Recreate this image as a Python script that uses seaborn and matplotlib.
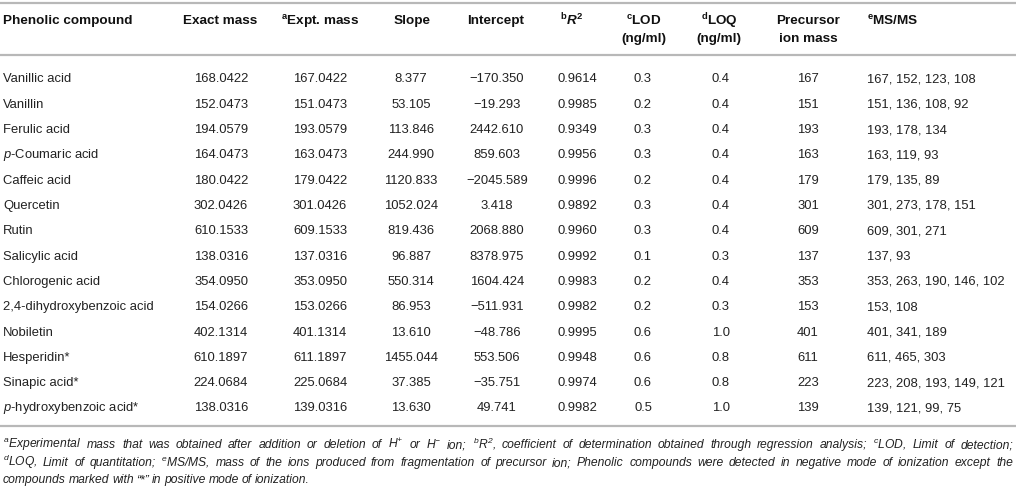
import matplotlib
matplotlib.use("Agg")
import matplotlib.pyplot as plt
import seaborn as sns

# table values
compounds = ["Vanillic acid", "Vanillin", "Ferulic acid", r"$\mathit{p}$-Coumaric acid",
             "Caffeic acid", "Quercetin", "Rutin", "Salicylic acid", "Chlorogenic acid",
             "2,4-dihydroxybenzoic acid", "Nobiletin", "Hesperidin*", "Sinapic acid*",
             r"$\mathit{p}$-hydroxybenzoic acid*"]
exact_mass = [168.0422, 152.0473, 194.0579, 164.0473, 180.0422, 302.0426, 610.1533,
              138.0316, 354.0950, 154.0266, 402.1314, 610.1897, 224.0684, 138.0316]
expt_mass = [167.0422, 151.0473, 193.0579, 163.0473, 179.0422, 301.0426, 609.1533,
             137.0316, 353.0950, 153.0266, 401.1314, 611.1897, 225.0684, 139.0316]
slope = [8.377, 53.105, 113.846, 244.990, 1120.833, 1052.024, 819.436,
         96.887, 550.314, 86.953, 13.610, 1455.044, 37.385, 13.630]
intercept = [-170.350, -19.293, 2442.610, 859.603, -2045.589, 3.418, 2068.880,
             8378.975, 1604.424, -511.931, -48.786, 553.506, -35.751, 49.741]
r2 = [0.9614, 0.9985, 0.9349, 0.9956, 0.9996, 0.9892, 0.9960,
      0.9992, 0.9983, 0.9982, 0.9995, 0.9948, 0.9974, 0.9982]
lod = [0.3, 0.2, 0.3, 0.3, 0.2, 0.3, 0.3, 0.1, 0.2, 0.2, 0.6, 0.6, 0.6, 0.5]
loq = [0.4, 0.4, 0.4, 0.4, 0.4, 0.4, 0.4, 0.3, 0.4, 0.3, 1.0, 0.8, 0.8, 1.0]
precursor = [167, 151, 193, 163, 179, 301, 609, 137, 353, 153, 401, 611, 223, 139]
msms = [[167, 152, 123, 108], [151, 136, 108, 92], [193, 178, 134], [163, 119, 93],
        [179, 135, 89], [301, 273, 178, 151], [609, 301, 271], [137, 93],
        [353, 263, 190, 146, 102], [153, 108], [401, 341, 189], [611, 465, 303],
        [223, 208, 193, 149, 121], [139, 121, 99, 75]]

headers = ["Phenolic compound", "Exact mass", r"$^{a}$Expt. mass", "Slope", "Intercept",
           r"$^{b}\mathbfit{R}^{2}$", "$^{c}$LOD\n(ng/ml)", "$^{d}$LOQ\n(ng/ml)",
           "Precursor\nion mass", "$^{e}$MS/MS"]

notes = [
    "$^{a}$Experimental mass that was obtained after addition or deletion of H$^{+}$ or "
    "H$^{-}$ ion; $^{b}$R$^{2}$, coefficient of determination obtained through regression "
    "analysis; $^{c}$LOD, Limit of detection;",
    "$^{d}$LOQ, Limit of quantitation; $^{e}$MS/MS, mass of the ions produced from "
    "fragmentation of precursor ion; Phenolic compounds were detected in negative mode "
    "of ionization except the",
    "compounds marked with \u201c*\u201d in positive mode of ionization.",
]

sns.set_theme(style="white")
plt.rcParams["font.family"] = ["Liberation Sans", "DejaVu Sans"]
plt.rcParams["mathtext.fontset"] = "custom"
plt.rcParams["mathtext.default"] = "regular"
plt.rcParams["mathtext.rm"] = "Liberation Sans"
plt.rcParams["mathtext.it"] = "Liberation Sans:italic"
plt.rcParams["mathtext.bf"] = "Liberation Sans:bold"
plt.rcParams["mathtext.bfit"] = "Liberation Sans:italic:bold"


def fmt(v, nd):
    s = f"{abs(v):.{nd}f}"
    return ("\u2212" + s) if v < 0 else s


fig = plt.figure(figsize=(10.16, 4.92), dpi=100)
ax = fig.add_axes([0, 0, 1, 1])
ax.set_xlim(0, 1016)
ax.set_ylim(492, 0)
ax.axis("off")

txt = "#222222"
rule = "#b8b8b8"
fs = 9.4

# column anchors (pixels)
col_x = [3, 221, 320, 411, 497, 577, 643, 721, 808, 867]
head_x = [3, 220, 320, 412, 496, 571, 644, 719, 808, 867]
head_ha = ["left"] + ["center"] * 8 + ["left"]

ax.axhline(3, color=rule, lw=1.6)
ax.axhline(55, color=rule, lw=1.6)
ax.axhline(426, color=rule, lw=1.6)

head_base = [24, 42]
for x, h, ha in zip(head_x, headers, head_ha):
    for n, part in enumerate(h.split("\n")):
        # superscripted labels sit a touch high, nudge them down
        dy = 1 if "$" in part else 0
        ax.text(x, head_base[n] + dy, part, ha=ha, va="baseline", fontsize=9.7,
                fontweight="bold", color="#111111")

row0, step = 78, 25.3
for i in range(len(compounds)):
    y = row0 + i * step + 4.5
    cells = [compounds[i], fmt(exact_mass[i], 4), fmt(expt_mass[i], 4),
             fmt(slope[i], 3), fmt(intercept[i], 3), fmt(r2[i], 4),
             fmt(lod[i], 1), fmt(loq[i], 1), str(precursor[i]),
             ", ".join(str(m) for m in msms[i])]
    for j, c in enumerate(cells):
        ha = "left" if j in (0, 9) else "center"
        ax.text(col_x[j], y, c, ha=ha, va="baseline", fontsize=fs, color=txt)

# footnotes, justified across the width
renderer = fig.canvas.get_renderer()
note_y = [448, 466, 483]
for k, line in enumerate(notes):
    words = line.split(" ")
    objs = [ax.text(0, note_y[k], w, ha="left", va="baseline", fontsize=8.7,
                    fontstyle="italic", color=txt) for w in words]
    widths = [o.get_window_extent(renderer).width for o in objs]
    space = 2.8
    if k < len(notes) - 1:
        space = (1013 - 3 - sum(widths)) / (len(words) - 1)
    x = 3
    for o, w in zip(objs, widths):
        o.set_x(x)
        x += w + space

fig.savefig("out.png", dpi=100)
